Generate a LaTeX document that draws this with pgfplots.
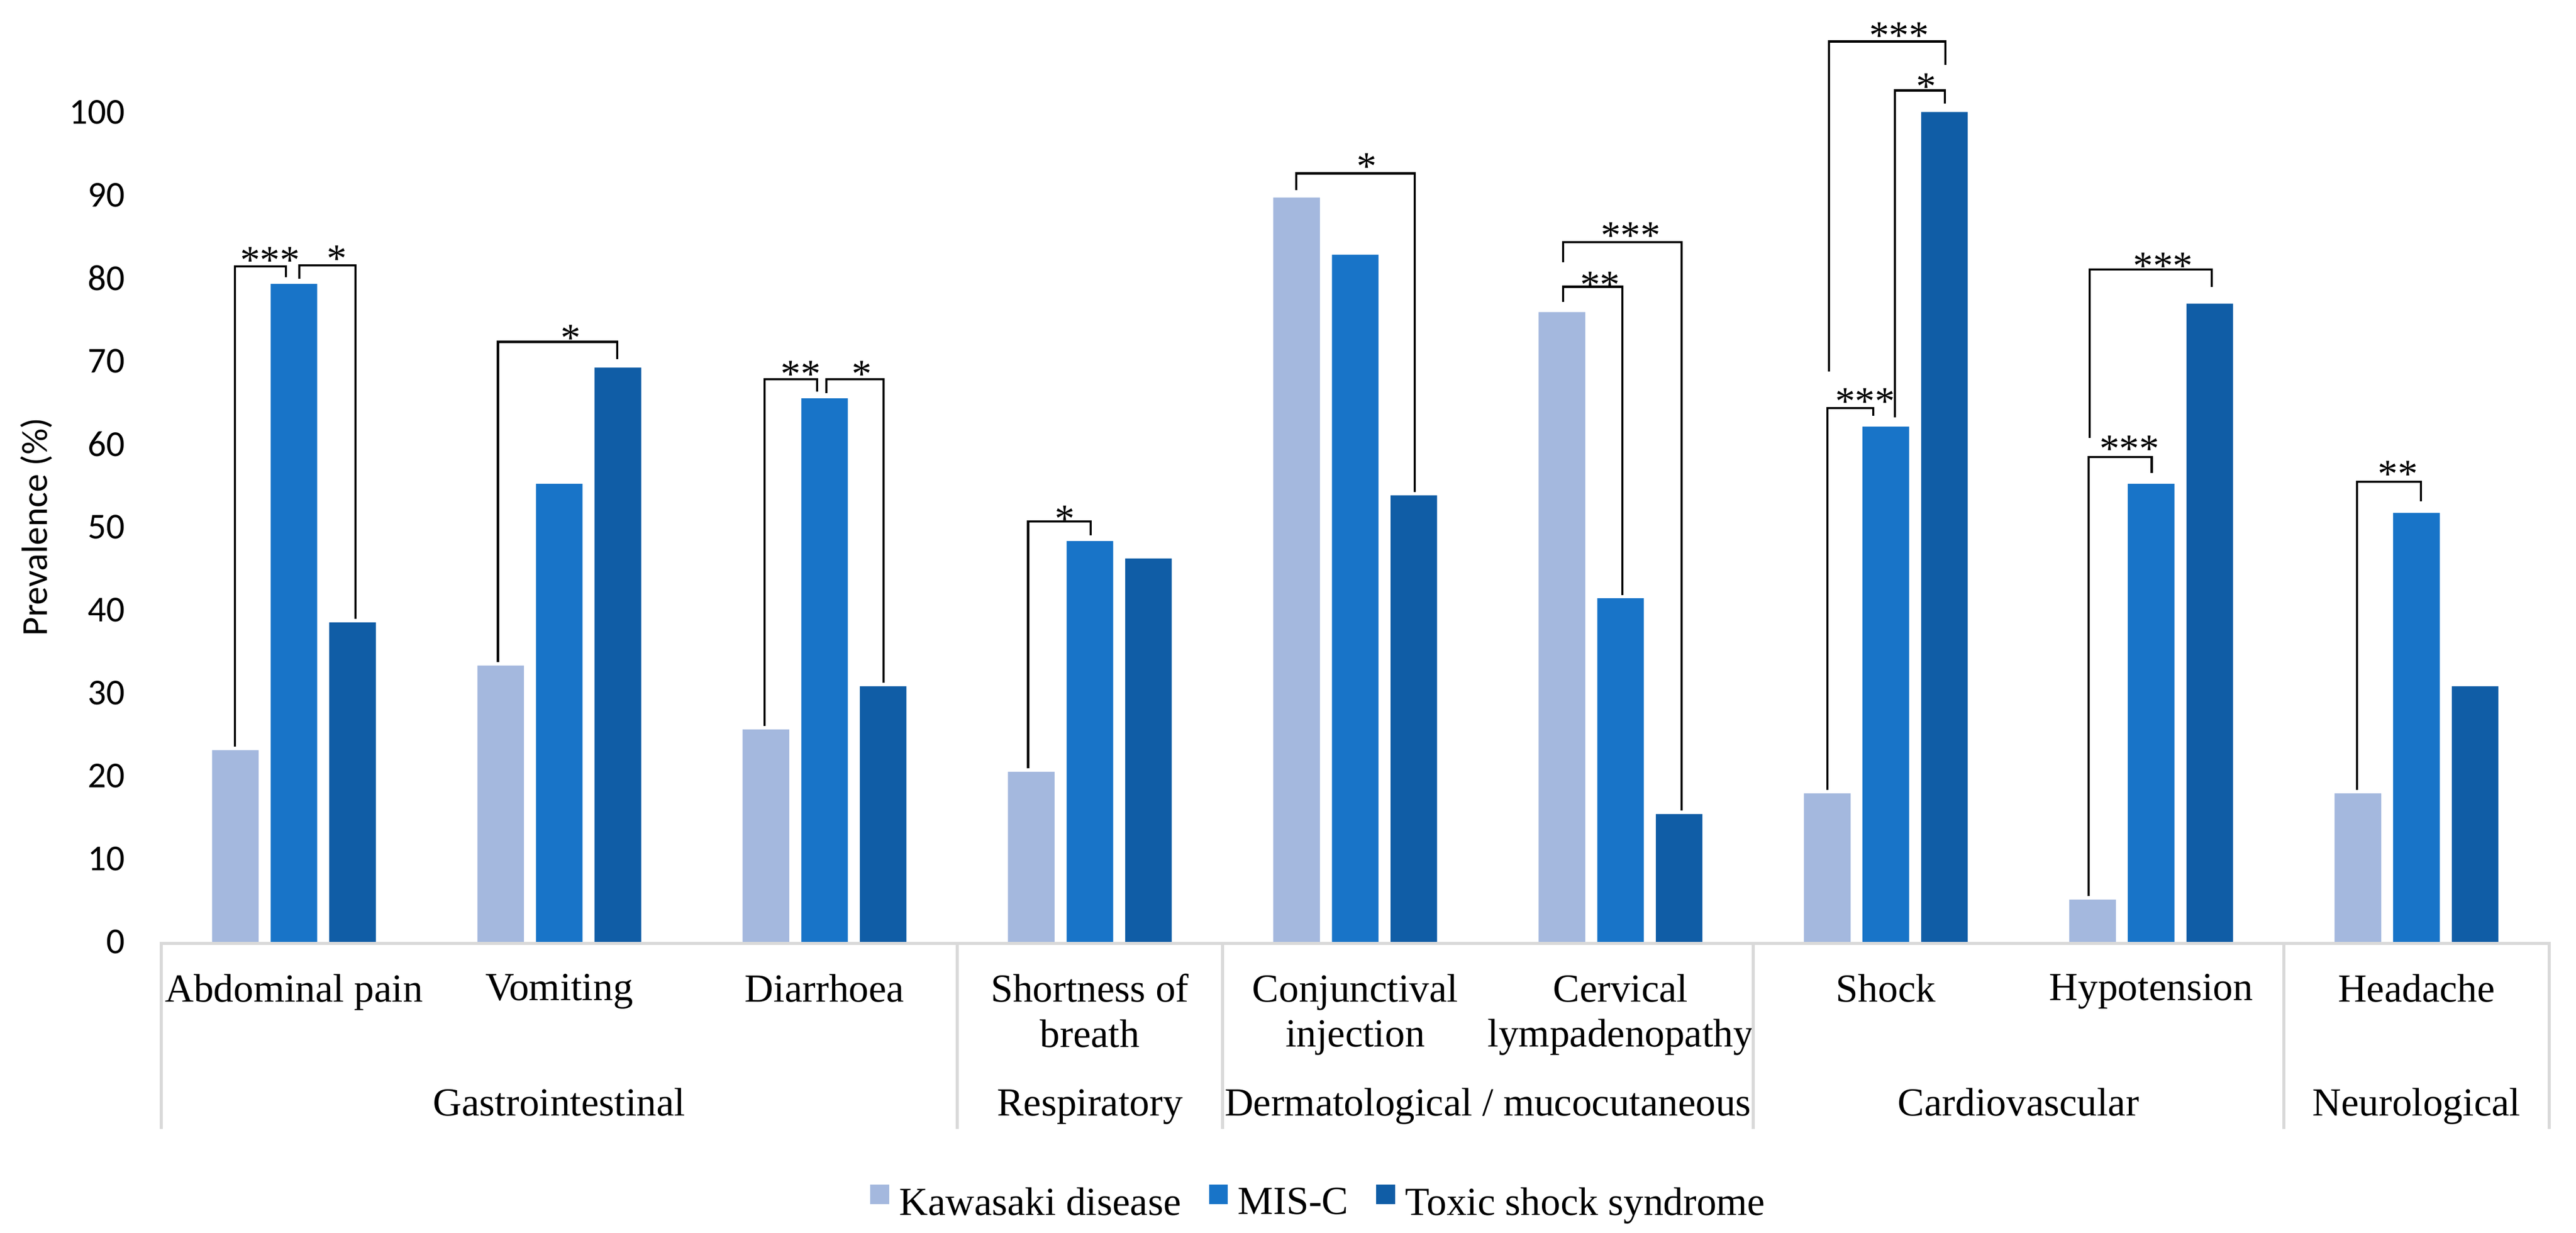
\documentclass[border=0pt]{standalone}
\usepackage{fontspec}
\setmainfont{Liberation Serif}
\newfontfamily\cali{Carlito}
\usepackage{pgfplots}
\pgfplotsset{compat=1.18}
\usetikzlibrary{calc}

\definecolor{kd}{RGB}{164,184,222}
\definecolor{misc}{RGB}{24,116,200}
\definecolor{tss}{RGB}{16,93,166}
\definecolor{sepgray}{RGB}{217,217,217}

% significance bracket: x1, x2, top y, bottom of left leg, bottom of right leg
\newcommand{\bracket}[5]{\draw[black, line width=0.65pt] (axis cs:#1,#4) |- (axis cs:#2,#3) -- (axis cs:#2,#5);}
% asterisks centred at (x,y)
\newcommand{\stars}[3]{\node[anchor=base, inner sep=0pt, font=\fontsize{12}{13}\selectfont] at ([yshift=-5.6pt]axis cs:#1,#2) {#3};}
\newcommand{\grouplabel}[2]{\node[anchor=base, inner sep=0pt, font=\fontsize{12}{13.6}\selectfont] at ([yshift=-52.4pt]axis cs:#1,0) {#2};}

\begin{document}
\begin{tikzpicture}
\begin{axis}[
    name=ax,
    scale only axis,
    width=719.6pt, height=283.8pt,
    ybar, bar width=0.1755,
    xmin=-0.5, xmax=8.5, ymin=0, ymax=113.5,
    xtick={0,...,8},
    xticklabels={Abdominal pain, Vomiting, Diarrhoea, {Shortness of\\breath},
        {Conjunctival\\injection}, {Cervical\\lympadenopathy}, Shock, Hypotension, Headache},
    ytick={0,10,...,100},
    major tick length=0pt,
    axis line style={draw=none},
    /pgf/number format/assume math mode=true,
    xticklabel style={font=\fontsize{12}{13.6}\selectfont, align=center, anchor=north, inner sep=0pt, yshift=-9.5pt},
    yticklabel style={font=\cali\fontsize{11}{13}\selectfont, anchor=east, inner sep=0pt, xshift=-10.8pt},
    ylabel={Prevalence (\%)},
    every axis y label/.style={at={(axis description cs:-0.0478,0.4405)}, rotate=90, anchor=base,
        inner sep=0pt, font=\cali\fontsize{11}{13}\selectfont},
    legend columns=-1,
    legend style={draw=none, at={(0.4843,-0.2766)}, anchor=center, inner sep=0pt,
        nodes={inner sep=0pt}, font=\fontsize{12}{13.6}\selectfont, column sep=3pt,
        /tikz/every even column/.append style={column sep=8.4pt}},
    legend image code/.code={\fill[#1] (0pt,-0.2pt) rectangle (5.7pt,5.7pt);},
    clip=false,
]
\addplot[fill=kd, draw=none, bar shift=-0.221] coordinates {
    (0,23.1) (1,33.3) (2,25.6) (3,20.5) (4,89.7) (5,75.9) (6,17.9) (7,5.1) (8,17.9)};
\addplot[fill=misc, draw=none, bar shift=0] coordinates {
    (0,79.3) (1,55.2) (2,65.5) (3,48.3) (4,82.8) (5,41.4) (6,62.1) (7,55.2) (8,51.7)};
\addplot[fill=tss, draw=none, bar shift=0.221] coordinates {
    (0,38.5) (1,69.2) (2,30.8) (3,46.2) (4,53.8) (5,15.4) (6,100) (7,76.9) (8,30.8)};
\legend{Kawasaki disease, MIS-C, Toxic shock syndrome}

% category table under the axis
\draw[sepgray, line width=0.9pt] ([yshift=-0.45pt]axis cs:-0.5,0) -- ([yshift=-0.45pt]axis cs:8.5,0);
\pgfplotsinvokeforeach{-0.5,2.5,3.5,5.5,7.5,8.5}{
    \draw[sepgray, line width=0.9pt] (axis cs:#1,0) -- ([yshift=-56.3pt]axis cs:#1,0);
}
\grouplabel{1}{Gastrointestinal}
\grouplabel{3}{Respiratory}
\grouplabel{4.5}{Dermatological / mucocutaneous}
\grouplabel{6.5}{Cardiovascular}
\grouplabel{8}{Neurological}

% significance brackets
\bracket{-0.222}{-0.03}{81.4}{23.5}{80.1}   \stars{-0.09}{82.8}{***}
\bracket{0.021}{0.232}{81.5}{79.9}{38.9}    \stars{0.161}{83.0}{*}
\bracket{0.769}{1.219}{72.3}{33.7}{70.2}    \stars{1.043}{73.4}{*}
\bracket{1.774}{1.972}{67.8}{26.0}{66.3}    \stars{1.91}{69.1}{**}
\bracket{2.007}{2.223}{67.8}{66.1}{31.2}    \stars{2.141}{69.1}{*}
\bracket{2.767}{3.003}{50.65}{20.9}{49.0}   \stars{2.905}{51.6}{*}
\bracket{3.777}{4.225}{92.6}{90.6}{54.2}    \stars{4.044}{94.1}{*}
\bracket{4.784}{5.230}{84.3}{81.9}{15.8}    \stars{5.038}{85.8}{***}
\bracket{4.784}{5.007}{78.95}{77.1}{41.8}   \stars{4.923}{79.8}{**}
\bracket{5.786}{6.225}{108.5}{68.7}{105.7}  \stars{6.05}{109.9}{***}
\bracket{6.034}{6.223}{102.6}{63.2}{101.0}  \stars{6.153}{103.7}{*}
\bracket{5.779}{5.953}{64.3}{18.3}{63.4}    \stars{5.922}{65.8}{***}
\bracket{6.768}{7.229}{81.0}{60.7}{78.9}    \stars{7.045}{82.1}{***}
\bracket{6.764}{7.002}{58.4}{5.5}{56.5}     \stars{6.918}{60.1}{***}
\bracket{7.776}{8.016}{55.45}{18.3}{53.1}   \stars{7.93}{57.0}{**}
\end{axis}
\pgfresetboundingbox
\path[use as bounding box] ($(ax.south west)+(-48.6pt,-87.7pt)$) rectangle ($(ax.north east)+(8.1pt,0pt)$);
\end{tikzpicture}
\end{document}
